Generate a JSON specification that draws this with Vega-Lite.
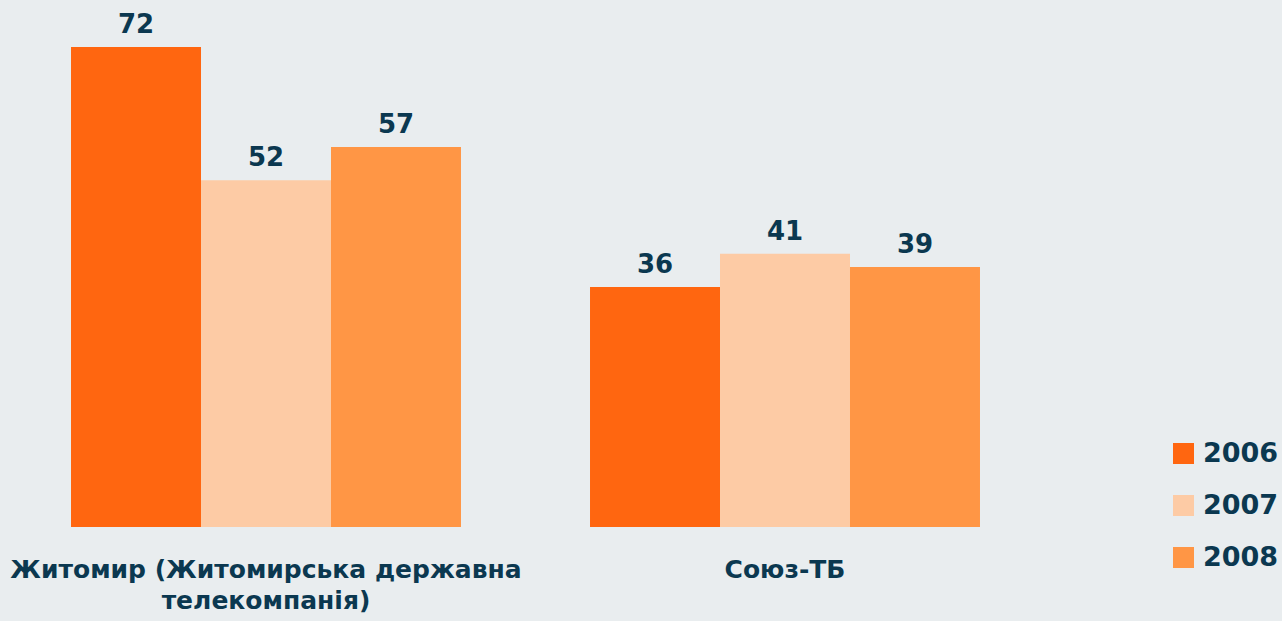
{
  "$schema": "https://vega.github.io/schema/vega-lite/v6.json",
  "width": 1038,
  "height": 480,
  "autosize": "none",
  "padding": {"left": 6.5, "top": 47, "right": 237.5, "bottom": 94},
  "background": "#e9edef",
  "config": {
    "view": {"stroke": null},
    "font": "DejaVu Sans"
  },
  "data": {
    "values": [
      {"channel": "Житомир (Житомирська державна|телекомпанія)", "year": "2006", "value": 72},
      {"channel": "Житомир (Житомирська державна|телекомпанія)", "year": "2007", "value": 52},
      {"channel": "Житомир (Житомирська державна|телекомпанія)", "year": "2008", "value": 57},
      {"channel": "Союз-ТБ", "year": "2006", "value": 36},
      {"channel": "Союз-ТБ", "year": "2007", "value": 41},
      {"channel": "Союз-ТБ", "year": "2008", "value": 39}
    ]
  },
  "encoding": {
    "x": {
      "field": "channel",
      "type": "nominal",
      "sort": null,
      "scale": {"paddingInner": 0.2486, "paddingOuter": 0.1243},
      "axis": {
        "title": null,
        "labelAngle": 0,
        "domain": false,
        "ticks": false,
        "labelFont": "DejaVu Sans",
        "labelFontWeight": "bold",
        "labelFontSize": 25,
        "labelColor": "#0b3850",
        "labelLimit": 0,
        "labelPadding": 30,
        "labelLineHeight": 31,
        "labelBaseline": "top",
        "labelExpr": "split(datum.label, '|')"
      }
    },
    "xOffset": {"field": "year", "type": "nominal", "scale": {"paddingInner": 0, "paddingOuter": 0}},
    "y": {
      "field": "value",
      "type": "quantitative",
      "scale": {"domain": [0, 72], "nice": false},
      "axis": null
    }
  },
  "layer": [
    {
      "mark": {"type": "bar"},
      "encoding": {
        "color": {
          "field": "year",
          "type": "nominal",
          "scale": {"domain": ["2006", "2007", "2008"], "range": ["#ff6610", "#fdcba5", "#ff9645"]},
          "legend": {
            "title": null,
            "orient": "none",
            "legendX": 1163.5,
            "legendY": 393,
            "symbolType": "square",
            "symbolSize": 441,
            "symbolStrokeWidth": 0,
            "labelFont": "DejaVu Sans",
            "labelFontWeight": "bold",
            "labelFontSize": 27,
            "labelColor": "#0b3850",
            "labelOffset": 6,
            "rowPadding": 24
          }
        }
      }
    },
    {
      "mark": {
        "type": "text",
        "baseline": "alphabetic",
        "dy": -14,
        "font": "DejaVu Sans",
        "fontWeight": "bold",
        "fontSize": 26,
        "color": "#0b3850"
      },
      "encoding": {
        "text": {"field": "value", "type": "quantitative"}
      }
    }
  ]
}
